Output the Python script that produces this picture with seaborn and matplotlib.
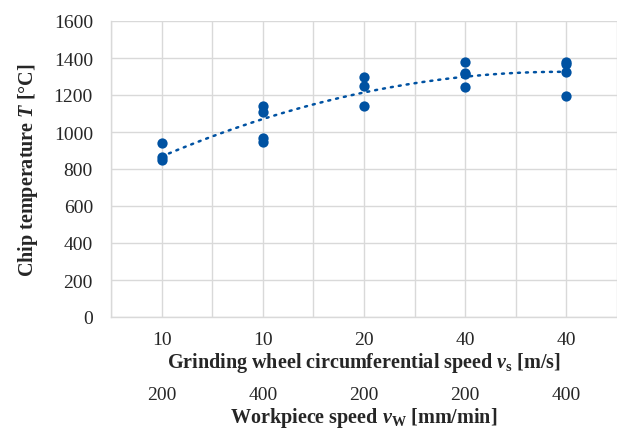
import numpy as np
import pandas as pd
import matplotlib
matplotlib.use("Agg")
import matplotlib.pyplot as plt
import seaborn as sns

# condition = (grinding wheel speed vs, workpiece speed vw)
vs_labels = ["10", "10", "20", "40", "40"]
vw_labels = ["200", "400", "200", "200", "400"]
conditions = ["10/200", "10/400", "20/200", "40/200", "40/400"]

# measured chip temperatures per condition [°C]
temp_c1 = [939, 866, 849]
temp_c2 = [1140, 1107, 966, 947]
temp_c3 = [1300, 1250, 1140]
temp_c4 = [1377, 1320, 1311, 1241]
temp_c5 = [1379, 1365, 1325, 1197]

BLUE = "#0052A2"
GRID = "#D9D9D9"


def main():
    sns.set_style("white")
    plt.rcParams["font.family"] = ["Liberation Serif", "DejaVu Serif"]
    plt.rcParams["mathtext.fontset"] = "custom"
    plt.rcParams["mathtext.rm"] = "Liberation Serif"
    plt.rcParams["mathtext.it"] = "Liberation Serif:italic"
    plt.rcParams["mathtext.bf"] = "Liberation Serif:bold"
    plt.rcParams["mathtext.bfit"] = "Liberation Serif:bold:italic"

    temps = [temp_c1, temp_c2, temp_c3, temp_c4, temp_c5]
    rows = []
    for i, (cond, vals) in enumerate(zip(conditions, temps)):
        for v in vals:
            rows.append({"cond": cond, "idx": i, "T": v})
    df = pd.DataFrame(rows)

    fig = plt.figure(figsize=(6.17, 4.31), dpi=100)
    ax = fig.add_axes([111 / 617, 113 / 431, 506 / 617, 296 / 431])

    sns.stripplot(data=df, x="cond", y="T", order=conditions, jitter=False,
                  color=BLUE, size=7.4, linewidth=0, ax=ax, zorder=3)

    # polynomial (order 2) trend line, like the spreadsheet trendline
    coef = np.polyfit(df["idx"], df["T"], 2)
    xs = np.linspace(0, 4, 100)
    ax.plot(xs, np.polyval(coef, xs), color=BLUE, lw=1.8,
            linestyle=(0, (0.8, 2.4)), dash_capstyle="round", zorder=2)

    ax.set_xlim(-0.5, 4.5)
    ax.set_ylim(0, 1600)
    ax.set_yticks(range(0, 1601, 200))
    ax.set_xticks(range(5))
    ax.set_xticklabels(vs_labels)
    ax.set_xticks(np.arange(-0.5, 4.6, 1.0), minor=True)
    ax.grid(True, which="both", color=GRID, lw=1.0)
    ax.set_axisbelow(True)
    ax.tick_params(axis="both", which="both", length=0, labelsize=14)
    ax.tick_params(axis="x", pad=10)
    ax.tick_params(axis="y", pad=13)

    for s in ["top", "right"]:
        ax.spines[s].set_visible(False)
    for s in ["left", "bottom"]:
        ax.spines[s].set_color(GRID)
        ax.spines[s].set_linewidth(1.0)

    ax.set_xlabel(r"Grinding wheel circumferential speed $\mathbfit{v}_\mathbf{s}$ [m/s]",
                  fontsize=14.5, fontweight="bold")
    ax.xaxis.set_label_coords(0.5, -0.11)
    ax.set_ylabel(r"Chip temperature $\mathbfit{T}$ [°C]",
                  fontsize=14.5, fontweight="bold")
    ax.yaxis.set_label_coords(-0.14, 0.5)

    # second row of category labels: workpiece speed
    for i, lab in enumerate(vw_labels):
        ax.annotate(lab, xy=(i, 0), xycoords=("data", "axes fraction"),
                    xytext=(0, -55.5), textcoords="offset points",
                    ha="center", va="center", fontsize=14)
    ax.annotate(r"Workpiece speed $\mathbfit{v}_\mathbf{W}$ [mm/min]",
                xy=(0.5, 0), xycoords="axes fraction",
                xytext=(0, -72), textcoords="offset points",
                ha="center", va="center", fontsize=14.5, fontweight="bold")

    fig.savefig("out.png", dpi=100)


if __name__ == "__main__":
    main()
